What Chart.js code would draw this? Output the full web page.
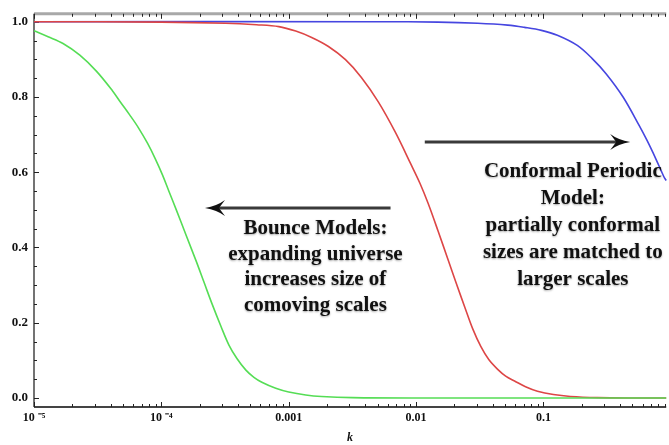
<!DOCTYPE html>
<html>
<head>
<meta charset="utf-8">
<script src="https://cdn.jsdelivr.net/npm/chart.js@4"></script>
<style>
  html, body { margin: 0; padding: 0; background: #fff; }
  #c { display: block; }
</style>
</head>
<body>
<canvas id="c" width="669" height="445"></canvas>
<script>
// axis ticks
const xMajorTicks = [1e-5, 1e-4, 1e-3, 0.01, 0.1];
const xMajorLabels = ['10 \u207B\u2075', '10 \u207B\u2074', '0.001', '0.01', '0.1'];
const yMajorTicks = [0, 0.2, 0.4, 0.6, 0.8, 1.0];
const yMajorLabels = ['0.0', '0.2', '0.4', '0.6', '0.8', '1.0'];

// green: bounce models
const kGreen = [1e-5, 1.29e-5, 1.69e-5, 2.29e-5, 3.1e-5, 4.14e-5, 4.78e-5, 5.62e-5, 6.61e-5, 7.78e-5, 8.98e-5, 1.02e-4, 1.15e-4, 1.31e-4, 1.57e-4, 1.88e-4, 2.17e-4, 2.5e-4, 2.94e-4, 3.4e-4, 3.92e-4, 4.61e-4, 5.33e-4, 6.15e-4, 7.91e-4, 1e-3, 1.36e-3, 1.81e-3, 3.16e-3, 0.01, 0.92];
const vGreen = [0.976, 0.96, 0.942, 0.911, 0.868, 0.816, 0.786, 0.753, 0.718, 0.677, 0.635, 0.593, 0.548, 0.50, 0.431, 0.363, 0.306, 0.25, 0.19, 0.14, 0.105, 0.074, 0.055, 0.042, 0.026, 0.016, 0.008, 0.004, 0.001, 0, 0];

// red
const kRed = [1e-5, 1e-4, 3.2e-4, 5.6e-4, 8.36e-4, 1.135e-3, 1.514e-3, 2.05e-3, 2.79e-3, 3.72e-3, 5.05e-3, 6.85e-3, 9.14e-3, 0.01074, 0.0124, 0.0149, 0.0178, 0.0205, 0.0242, 0.0279, 0.0322, 0.0372, 0.0437, 0.0505, 0.0593, 0.0723, 0.0897, 0.1197, 0.1626, 0.264, 0.542, 0.92];
const vRed = [1.0, 0.999, 0.996, 0.992, 0.987, 0.975, 0.958, 0.934, 0.899, 0.852, 0.787, 0.707, 0.620, 0.570, 0.518, 0.443, 0.368, 0.308, 0.240, 0.183, 0.137, 0.102, 0.076, 0.058, 0.045, 0.030, 0.018, 0.009, 0.004, 0.001, 0, 0];

// blue: conformal periodic
const kBlue = [1e-5, 5.05e-3, 0.01486, 0.0305, 0.0524, 0.0711, 0.0964, 0.1286, 0.1843, 0.2415, 0.31, 0.4217, 0.5623, 0.649, 0.764, 0.882, 0.92];
const vBlue = [1.0, 1.0, 0.999, 0.996, 0.991, 0.985, 0.977, 0.964, 0.937, 0.902, 0.862, 0.80, 0.725, 0.685, 0.635, 0.588, 0.578];

// annotations (data coords)
const bounceArrowK = [6.3e-3, 2.2e-4];
const bounceArrowY = 0.505;
const bounceTextK = 1.62e-3;
const bounceTextY = 0.45;
const bounceLines = ['Bounce Models:', 'expanding universe', 'increases size of', 'comoving scales'];

const periodicArrowK = [0.0117, 0.48];
const periodicArrowY = 0.68;
const periodicTextK = 0.17;
const periodicTextY = 0.603;
const periodicLines = ['Conformal Periodic', 'Model:', 'partially conformal', 'sizes are matched to', 'larger scales'];

const pts = (ks, vs) => ks.map((k, i) => ({ x: k, y: vs[i] }));

// minor tick values (2..9 per decade)
function xAllTicks(max) {
    const out = [];
    xMajorTicks.forEach(d => {
        for (let m = 1; m <= 9; m++) {
            const v = d * m;
            if (v <= max * 1.0001) out.push(v);
        }
    });
    return out;
}
function yAllTicks() {
    const out = [];
    for (let i = 0; i <= 20; i++) out.push(Math.round(i * 5) / 100);
    return out;
}
const isMajorX = v => xMajorTicks.some(d => Math.abs(v / d - 1) < 1e-6);
const isMajorY = v => yMajorTicks.some(d => Math.abs(v - d) < 1e-6);

const frame = {
    id: 'frame',
    beforeDatasetsDraw(chart) {
        const { ctx, chartArea: a, scales: { x, y } } = chart;
        ctx.save();
        // top frame
        ctx.strokeStyle = '#a8a8a8';
        ctx.lineWidth = 3;
        ctx.beginPath(); ctx.moveTo(a.left, a.top); ctx.lineTo(a.right, a.top); ctx.stroke();
        // left + bottom axis
        ctx.strokeStyle = '#444';
        ctx.lineWidth = 1.5;
        ctx.beginPath(); ctx.moveTo(a.left, a.top); ctx.lineTo(a.left, a.bottom); ctx.stroke();
        ctx.lineWidth = 2;
        ctx.beginPath(); ctx.moveTo(a.left, a.bottom); ctx.lineTo(a.right, a.bottom); ctx.stroke();
        // ticks
        ctx.strokeStyle = '#222';
        ctx.lineWidth = 1;
        x.ticks.forEach(t => {
            const px = Math.round(x.getPixelForValue(t.value)) + 0.5;
            const len = isMajorX(t.value) ? 5 : 3;
            ctx.beginPath();
            ctx.moveTo(px, a.bottom); ctx.lineTo(px, a.bottom - len);
            ctx.moveTo(px, a.top); ctx.lineTo(px, a.top + len);
            ctx.stroke();
        });
        y.ticks.forEach(t => {
            const py = Math.round(y.getPixelForValue(t.value)) + 0.5;
            const len = isMajorY(t.value) ? 5 : 3;
            ctx.beginPath();
            ctx.moveTo(a.left, py); ctx.lineTo(a.left + len, py);
            ctx.stroke();
        });
        ctx.restore();
    },
    afterDatasetsDraw(chart) {
        const { ctx, scales: { x, y } } = chart;
        ctx.save();
        const arrow = (k0, k1, yv) => {
            const x0 = x.getPixelForValue(k0), x1 = x.getPixelForValue(k1);
            const py = y.getPixelForValue(yv);
            const dir = Math.sign(x1 - x0);
            ctx.strokeStyle = '#3a3a3a';
            ctx.lineWidth = 3;
            ctx.beginPath(); ctx.moveTo(x0, py); ctx.lineTo(x1 - dir * 12, py); ctx.stroke();
            ctx.fillStyle = '#111';
            ctx.beginPath();
            ctx.moveTo(x1, py);
            ctx.quadraticCurveTo(x1 - dir * 12, py - 2, x1 - dir * 20, py - 8);
            ctx.lineTo(x1 - dir * 14, py);
            ctx.lineTo(x1 - dir * 20, py + 8);
            ctx.quadraticCurveTo(x1 - dir * 12, py + 2, x1, py);
            ctx.fill();
        };
        arrow(bounceArrowK[0], bounceArrowK[1], bounceArrowY);
        arrow(periodicArrowK[0], periodicArrowK[1], periodicArrowY);

        ctx.font = 'bold 21px "Liberation Serif", "Times New Roman", serif';
        ctx.fillStyle = '#111';
        ctx.textAlign = 'center';
        ctx.textBaseline = 'middle';
        ctx.shadowColor = 'rgba(0,0,0,0.35)';
        ctx.shadowBlur = 2;
        ctx.shadowOffsetY = 1;
        const bx = x.getPixelForValue(bounceTextK), by = y.getPixelForValue(bounceTextY);
        bounceLines.forEach((s, i) => ctx.fillText(s, bx, by + i * 25.5));
        const cx = x.getPixelForValue(periodicTextK), cy = y.getPixelForValue(periodicTextY);
        periodicLines.forEach((s, i) => ctx.fillText(s, cx, cy + i * 27));
        ctx.restore();
    }
};

const tickFont = { family: '"Liberation Serif", "Times New Roman", serif', weight: 'bold', size: 13 };

new Chart(document.getElementById('c'), {
    type: 'scatter',
    data: {
        datasets: [
            { data: pts(kGreen, vGreen), borderColor: '#55dd55' },
            { data: pts(kRed, vRed), borderColor: '#dd4646' },
            { data: pts(kBlue, vBlue), borderColor: '#4646e0' }
        ].map(d => Object.assign(d, { showLine: true, pointRadius: 0, borderWidth: 1.6, tension: 0.35, clip: false }))
    },
    options: {
        responsive: false,
        animation: false,
        layout: { padding: { top: 10, right: 0, left: 0, bottom: 0 } },
        plugins: { legend: { display: false }, tooltip: { enabled: false } },
        scales: {
            x: {
                type: 'logarithmic',
                min: 1e-5, max: 0.92,
                grid: { display: false, drawTicks: false },
                border: { display: false },
                afterBuildTicks: s => { s.ticks = xAllTicks(s.max).map(v => ({ value: v })); },
                afterFit: s => { s.height = 38; },
                ticks: {
                    autoSkip: false, maxRotation: 0, padding: 4, color: '#111', font: { ...tickFont, size: 12 },
                    callback: v => { const i = xMajorTicks.findIndex(d => Math.abs(v / d - 1) < 1e-6); return i >= 0 ? xMajorLabels[i] : ''; }
                },
                title: { display: true, text: 'k', color: '#111', padding: { top: 6, bottom: 0 }, font: { ...tickFont, style: 'italic', size: 12 } }
            },
            y: {
                min: -0.024, max: 1.021,
                grid: { display: false, drawTicks: false },
                border: { display: false },
                afterBuildTicks: s => { s.ticks = yAllTicks().map(v => ({ value: v })); },
                afterFit: s => { s.width = 34; },
                ticks: {
                    autoSkip: false, padding: 6, color: '#111', font: tickFont,
                    callback: v => { const i = yMajorTicks.findIndex(d => Math.abs(v - d) < 1e-6); return i >= 0 ? yMajorLabels[i] : ''; }
                }
            }
        }
    },
    plugins: [frame]
});
</script>
</body>
</html>
